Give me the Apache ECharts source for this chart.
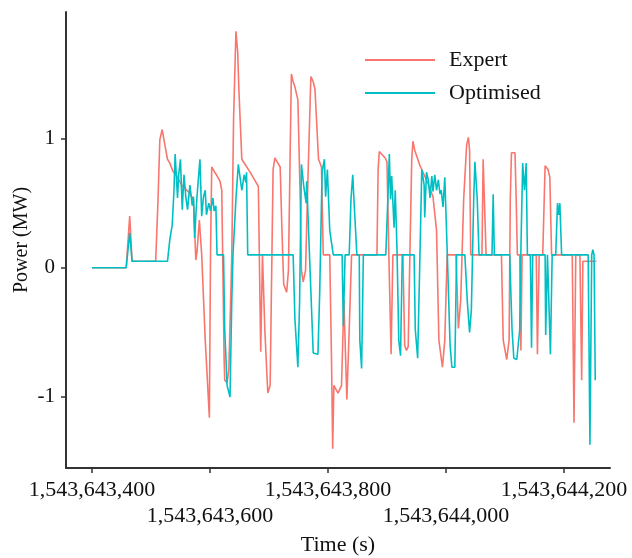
<!DOCTYPE html>
<html><head><meta charset="utf-8">
<script src="https://cdn.jsdelivr.net/npm/echarts@6/dist/echarts.min.js"></script>
<style>html,body{margin:0;padding:0;background:#fff}#c{width:632px;height:558px}</style>
</head><body><div id="c"></div>
<script>
const startTime = 1543643400;
const seriesNames = ['Expert', 'Optimised'];
const seriesColors = ['#F8766D', '#00BFC4'];
const xTicks = [1543643400, 1543643600, 1543643800, 1543644000, 1543644200];
const xTicksUpper = [1543643400, 1543643800, 1543644200];
const xTicksLower = [1543643600, 1543644000];
const yTicks = [-1, 0, 1];
// [seconds after startTime, power MW]
const expertData = [[0,0],[58,0],[64,0.40],[68,0.05],[108,0.05],[112,0.53],[115,0.99],[119,1.07],[124,0.94],[128,0.84],[132,0.81],[137,0.75],[144,0.71],[152,0.64],[163,0.59],[172,0.53],[176,0.06],[178,0.12],[182,0.37],[186,0.10],[192,-0.56],[199,-1.16],[201,0.14],[203,0.78],[208,0.74],[211,0.72],[217,0.67],[220,0.60],[224,-0.71],[225,-0.87],[229,-0.89],[232,-0.79],[237,0.10],[240,1.15],[244,1.83],[247,1.67],[249,1.38],[254,0.84],[268,0.74],[282,0.63],[286,-0.65],[289,0.10],[293,-0.48],[298,-0.97],[302,-0.91],[305,0.10],[307,0.76],[310,0.85],[315,0.81],[319,0.78],[322,0.29],[325,-0.13],[330,-0.19],[333,-0.02],[336,0.91],[338,1.50],[341,1.44],[344,1.40],[349,1.30],[353,0.53],[355,-0.02],[358,-0.11],[362,-0.02],[366,0.68],[371,1.48],[375,1.44],[378,1.38],[384,0.84],[389,0.78],[392,0.10],[403,0.10],[406,-0.71],[408,-1.40],[410,-0.91],[417,-0.97],[423,-0.91],[427,-0.25],[432,-1.02],[436,-0.48],[440,0.10],[483,0.10],[485,0.76],[487,0.90],[497,0.85],[500,0.82],[503,0.14],[507,-0.67],[510,0.10],[527,0.10],[530,-0.60],[533,-0.64],[536,-0.61],[539,0.14],[542,0.84],[544,0.98],[547,0.91],[556,0.79],[568,0.67],[578,0.55],[584,0.29],[588,-0.56],[594,-0.77],[598,-0.56],[602,0.10],[617,0.10],[621,-0.47],[625,-0.25],[630,0.53],[635,0.95],[638,1.01],[640,0.91],[642,0.10],[661,0.10],[663,0.84],[665,0.84],[668,0.10],[694,0.10],[697,-0.56],[703,-0.71],[707,-0.56],[709,0.53],[711,0.89],[717,0.89],[719,0.53],[721,0.10],[725,0.10],[727,-0.64],[729,0.10],[753,0.10],[755,-0.67],[758,0.10],[764,0.10],[768,0.79],[773,0.76],[776,0.70],[779,0.10],[814,0.10],[817,-1.20],[820,0.10],[827,0.10],[830,-0.87],[832,0.05],[855,0.05]];
const optimisedData = [[0,0],[58,0],[64,0.27],[68,0.05],[128,0.05],[132,0.22],[136,0.33],[139,0.60],[141,0.88],[145,0.54],[147,0.72],[150,0.84],[153,0.45],[156,0.72],[159,0.55],[162,0.45],[166,0.64],[170,0.48],[172,0.55],[174,0.23],[176,0.40],[178,0.55],[183,0.84],[186,0.40],[189,0.55],[192,0.60],[194,0.41],[198,0.50],[201,0.44],[205,0.54],[207,0.44],[210,0.48],[212,0.10],[223,0.10],[225,-0.48],[229,-0.91],[234,-1.00],[237,-0.25],[239,0.10],[244,0.53],[248,0.80],[254,0.60],[258,0.72],[261,0.66],[262,0.74],[264,0.10],[341,0.10],[344,-0.40],[349,-0.77],[352,-0.25],[355,0.80],[359,0.63],[363,0.50],[364,0.67],[366,0.66],[369,0.06],[375,-0.66],[383,-0.67],[386,-0.19],[390,0.74],[394,0.84],[396,0.55],[399,0.76],[403,0.29],[409,0.10],[424,0.10],[426,-0.45],[429,0.10],[436,0.10],[439,0.53],[442,0.72],[444,0.53],[449,0.10],[453,0.10],[454,-0.56],[457,-0.78],[460,0.10],[498,0.10],[502,0.60],[504,0.88],[506,0.53],[508,0.71],[512,0.31],[514,0.60],[517,0.14],[520,-0.56],[523,-0.68],[526,0.10],[546,0.10],[548,-0.48],[552,-0.70],[555,-0.09],[559,0.76],[563,0.64],[564,0.39],[567,0.74],[570,0.68],[573,0.54],[576,0.71],[578,0.59],[581,0.72],[584,0.60],[587,0.68],[590,0.57],[592,0.60],[595,0.47],[598,0.70],[602,0.14],[607,-0.60],[610,-0.77],[615,-0.77],[618,0.10],[632,0.10],[636,-0.25],[640,-0.50],[643,-0.33],[647,0.53],[649,0.82],[653,0.53],[656,0.10],[678,0.10],[680,0.57],[682,0.10],[708,0.10],[712,-0.48],[715,-0.70],[720,-0.71],[725,-0.48],[727,0.14],[730,0.81],[733,0.60],[736,0.81],[738,0.10],[743,0.10],[745,-0.62],[747,0.10],[768,0.10],[769,-0.52],[772,0.10],[775,0.10],[777,-0.67],[780,0.10],[786,0.10],[789,0.50],[791,0.41],[793,0.50],[796,0.10],[841,0.10],[844,-1.37],[847,0.10],[849,0.14],[851,0.10],[853,-0.87]];

const FONT = "'Liberation Serif', 'DejaVu Serif', serif";
const X_MIN = 1543643356, X_MAX = 1543644278;
const fmtNum = v => String(Math.round(v)).replace(/\B(?=(\d{3})+(?!\d))/g, ',');
const chart = echarts.init(document.getElementById('c'), null, {renderer: 'canvas'});
const toPts = arr => arr.map(p => [startTime + p[0], p[1]]);
const labelBase = {fontFamily: FONT, fontSize: 22, color: '#111', showMinLabel: true, showMaxLabel: true, hideOverlap: false, formatter: v => fmtNum(v)};
chart.setOption({
  animation: false,
  backgroundColor: '#fff',
  grid: {left: 66, right: 22, top: 12, bottom: 90, containLabel: false, outerBoundsMode: 'none'},
  legend: {
    data: seriesNames.map(n => ({name: n, icon: 'rect'})), orient: 'vertical', left: 365, top: 49, padding: 0,
    itemWidth: 70, itemHeight: 2, itemGap: 11,
    textStyle: {fontFamily: FONT, fontSize: 22, color: '#111', padding: [0, 0, 0, 9], lineHeight: 22}
  },
  xAxis: [{
    type: 'value', min: X_MIN, max: X_MAX, position: 'bottom',
    name: 'Time (s)', nameLocation: 'middle', nameGap: 66,
    nameTextStyle: {fontFamily: FONT, fontSize: 22, color: '#111'},
    axisLine: {show: true, onZero: false, lineStyle: {color: '#333', width: 2}},
    axisTick: {show: true, customValues: xTicks, length: 5, lineStyle: {color: '#333', width: 1.5}},
    axisLabel: Object.assign({customValues: xTicksUpper, margin: 11}, labelBase),
    splitLine: {show: false}
  }, {
    type: 'value', min: X_MIN, max: X_MAX, position: 'bottom', offset: 0,
    axisLine: {show: false, onZero: false},
    axisTick: {show: false},
    axisLabel: Object.assign({customValues: xTicksLower, margin: 37}, labelBase),
    splitLine: {show: false}
  }],
  yAxis: {
    type: 'value', min: -1.55, max: 1.98,
    name: 'Power (MW)', nameLocation: 'middle', nameGap: 34, nameMoveOverlap: false,
    nameTextStyle: {fontFamily: FONT, fontSize: 20, color: '#111'},
    axisLine: {show: true, onZero: false, lineStyle: {color: '#333', width: 2}},
    axisTick: {show: true, customValues: yTicks, length: 5, lineStyle: {color: '#333', width: 1.5}},
    axisLabel: {customValues: yTicks, showMinLabel: true, showMaxLabel: true, fontFamily: FONT, fontSize: 21, color: '#111', margin: 11,
      formatter: v => String(v)},
    splitLine: {show: false}
  },
  series: [
    {name: seriesNames[0], type: 'line', xAxisIndex: 0, data: toPts(expertData), symbol: 'none', showSymbol: false,
     color: seriesColors[0], lineStyle: {color: seriesColors[0], width: 1.6}},
    {name: seriesNames[1], type: 'line', xAxisIndex: 0, data: toPts(optimisedData), symbol: 'none', showSymbol: false,
     color: seriesColors[1], lineStyle: {color: seriesColors[1], width: 1.6}}
  ]
});
</script>
</body></html>
